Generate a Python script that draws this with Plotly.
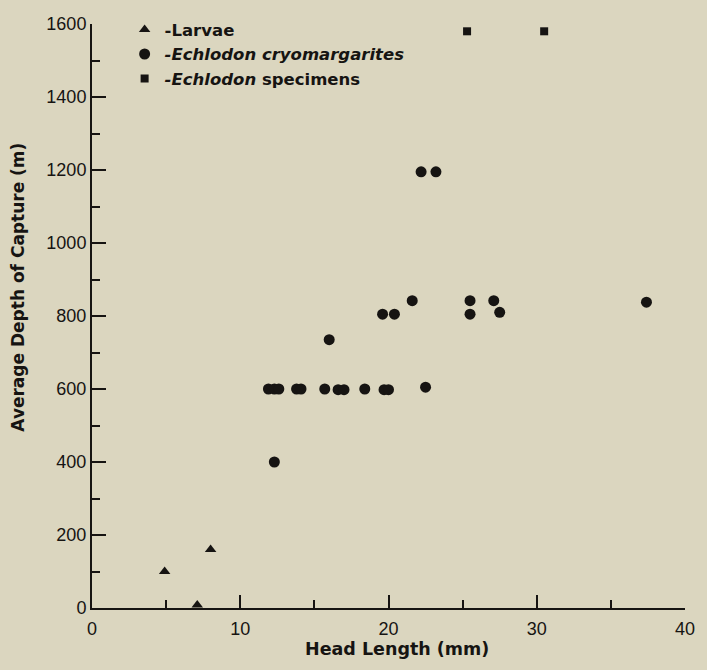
import plotly.graph_objects as go

# Larvae
larvae_x = [4.9, 7.1, 8.0]
larvae_y = [100, 8, 160]

# Echlodon cryomargarites
cryo_x = [12.3, 11.9, 12.3, 12.6, 13.8, 14.1, 15.7, 16.6, 17.0, 18.4, 19.7, 20.0, 22.5,
          16.0, 19.6, 20.4, 21.6, 25.5, 25.5, 27.1, 27.5, 37.4, 22.2, 23.2]
cryo_y = [400, 600, 600, 600, 600, 600, 600, 598, 598, 600, 598, 598, 605,
          735, 805, 805, 842, 842, 805, 842, 810, 838, 1195, 1195]

# Echlodon specimens
spec_x = [25.3, 30.5]
spec_y = [1580, 1580]

x_title = "Head Length (mm)"
y_title = "Average Depth of Capture (m)"

ink = "#161412"
bg = "#dbd6bf"
tick_font = "Liberation Sans, Arial, sans-serif"
title_font = "DejaVu Sans, Verdana, sans-serif"

fig = go.Figure()
fig.add_trace(go.Scatter(x=larvae_x, y=larvae_y, mode="markers", name="<b>-Larvae</b>",
                         marker=dict(symbol="triangle-up", size=10, color=ink), cliponaxis=False))
fig.add_trace(go.Scatter(x=cryo_x, y=cryo_y, mode="markers", name="<b><i>-Echlodon cryomargarites</i></b>",
                         marker=dict(symbol="circle", size=11, color=ink), cliponaxis=False))
fig.add_trace(go.Scatter(x=spec_x, y=spec_y, mode="markers", name="<b><i>-Echlodon</i> specimens</b>",
                         marker=dict(symbol="square", size=8, color=ink), cliponaxis=False))

fig.update_layout(
    width=707, height=670,
    margin=dict(l=92, r=16, t=17, b=62),
    paper_bgcolor=bg, plot_bgcolor=bg,
    font=dict(family=tick_font, color=ink, size=18),
    showlegend=True,
    legend=dict(x=0.055, y=1.02, xanchor="left", yanchor="top", bgcolor="rgba(0,0,0,0)",
                font=dict(size=16.5, color=ink, family=title_font), tracegroupgap=0, itemwidth=30),
    xaxis=dict(range=[0, 40], dtick=10, tick0=0, ticks="inside", ticklen=13, tickwidth=2,
               tickcolor=ink, showline=True, linecolor=ink, linewidth=2, showgrid=False,
               zeroline=False, mirror=False, ticklabelstandoff=3,
               minor=dict(dtick=5, tick0=0, ticks="inside", ticklen=8, tickwidth=2, tickcolor=ink, showgrid=False),
               tickfont=dict(size=18)),
    yaxis=dict(range=[0, 1600], dtick=200, tick0=0, ticks="inside", ticklen=14, tickwidth=2,
               tickcolor=ink, showline=True, linecolor=ink, linewidth=2, showgrid=False,
               zeroline=False, mirror=False,
               minor=dict(dtick=100, tick0=0, ticks="inside", ticklen=8, tickwidth=2, tickcolor=ink, showgrid=False),
               tickfont=dict(size=18)),
    annotations=[
        dict(text="<b>" + y_title + "</b>", xref="paper", yref="paper",
             x=-0.125, y=0.55, xanchor="center", yanchor="middle", textangle=-90,
             showarrow=False, font=dict(size=17, family=title_font, color=ink)),
        dict(text="<b>" + x_title + "</b>", xref="paper", yref="paper",
             x=0.514, y=-0.07, xanchor="center", yanchor="middle",
             showarrow=False, font=dict(size=17.5, family=title_font, color=ink)),
    ],
)

fig.write_html("out.html", config={"displayModeBar": False},
               post_script="document.body.style.margin='0';document.body.style.overflow='hidden';")
